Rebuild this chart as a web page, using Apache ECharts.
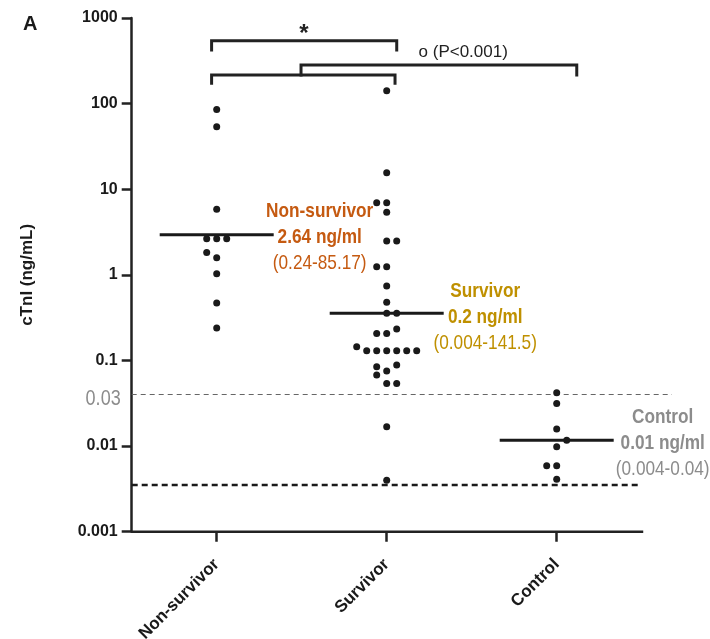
<!DOCTYPE html>
<html><head><meta charset="utf-8">
<script src="https://cdn.jsdelivr.net/npm/echarts@6/dist/echarts.min.js"></script>
<style>html,body{margin:0;padding:0;background:#fff}#c{width:710px;height:639px}</style>
</head><body><div id="c"></div>
<script>
// ---- data ----
const categories = ['Non-survivor', 'Survivor', 'Control'];
const nonSurvivor = [85.17, 53.7, 5.82, 2.64, 2.64, 2.64, 1.83, 1.58, 1.03, 0.47, 0.24];
const nonSurvivorSwarm = [0, 0, 0, -1, 0, 1, -1, 0, 0, 0, 0];
const survivor = [141.5, 15.6, 6.95, 6.95, 5.37, 2.48, 2.48, 1.24, 1.24, 0.74, 0.48, 0.355, 0.355,
  0.233, 0.207, 0.207, 0.145, 0.13, 0.13, 0.13, 0.13, 0.13, 0.13,
  0.0883, 0.0843, 0.0751, 0.0675, 0.054, 0.054, 0.0168, 0.004];
const survivorSwarm = [0, 0, -1, 0, 0, 0, 1, -1, 0, 0, 0, 0, 1,
  1, -1, 0, -3, -2, -1, 0, 1, 2, 3,
  1, -1, 0, -1, 0, 1, 0, 0];
const control = [0.042, 0.0315, 0.0158, 0.0117, 0.0098, 0.0059, 0.0059, 0.0041];
const controlSwarm = [0, 0, 0, 1, 0, -1, 0, 0];
const medians = [2.95, 0.355, 0.0117];
const groupLabels = ['Non-survivor', 'Survivor', 'Control'];
const medianTexts = ['2.64 ng/ml', '0.2 ng/ml', '0.01 ng/ml'];
const rangeTexts = ['(0.24-85.17)', '(0.004-141.5)', '(0.004-0.04)'];
const groupColors = ['#C55A11', '#BF9000', '#8C8C8C'];
const yTickLabels = ['0.001', '0.01', '0.1', '1', '10', '100', '1000'];
const cutoffValue = 0.036, cutoffLabel = '0.03';
const detectionLimit = 0.0035;
// significance brackets (x in category units, y in ng/mL)
const bracketStar = [[0.47, 423], [0.47, 543], [1.559, 543], [1.559, 423]];
const bracketLow = [[0.47, 173], [0.47, 216], [1.549, 216], [1.549, 173]];
const bracketHigh = [[0.996, 216], [0.996, 282], [2.618, 282], [2.618, 216]];
const sigTexts = [{ pos: [1.013, 640], text: '*' }, { pos: [1.95, 400], text: 'o (P<0.001)' }];

// ---- layout ----
const SLOT = 10 / 170;
const FONT = '"Liberation Sans", Arial, sans-serif';
const INK = '#1a1a1a';
const NARROW_SCALE = 0.82;
const groups = [nonSurvivor, survivor, control];
const swarms = [nonSurvivorSwarm, survivorSwarm, controlSwarm];
const dots = [];
groups.forEach((vals, g) => vals.forEach((v, i) => dots.push([g + 0.5 + swarms[g][i] * SLOT, v])));
const xMax = 540.3 / 170;
const labelOffsets = [[103, 2.5], [98.5, 3.4], [106, 3.3]];

const chart = echarts.init(document.getElementById('c'), null, { renderer: 'canvas' });
const bracketSeries = [bracketStar, bracketLow, bracketHigh].map(d => ({
  type: 'line', data: d, symbol: 'none', silent: true, z: 3,
  lineStyle: { color: '#222', width: 3, cap: 'square', join: 'miter' }
}));
chart.setOption({
  animation: false,
  backgroundColor: '#fff',
  title: { text: 'A', left: 23, top: 14, padding: 0,
    textStyle: { fontFamily: FONT, fontSize: 20, fontWeight: 'bold', color: INK } },
  grid: { left: 131.7, right: 38, top: 18, bottom: 107.3, containLabel: false, outerBoundsMode: 'none' },
  xAxis: {
    type: 'value', min: 0, max: xMax,
    axisLine: { show: false },
    splitLine: { show: false },
    axisTick: { show: true, customValues: [0.5, 1.5, 2.5], length: 10,
      lineStyle: { color: '#222', width: 2.5 } },
    axisLabel: { customValues: [0.5, 1.5, 2.5], rotate: 45, margin: 30,
      formatter: v => categories[Math.floor(v)],
      fontFamily: FONT, fontSize: 17, fontWeight: 'bold', color: INK }
  },
  yAxis: {
    type: 'log', logBase: 10, min: 0.001, max: 1000, interval: 1, splitNumber: 6,
    name: 'cTnI (ng/mL)', nameLocation: 'middle', nameGap: 96, nameRotate: 90,
    nameTextStyle: { fontFamily: FONT, fontSize: 17, fontWeight: 'bold', color: INK },
    axisLine: { show: true, lineStyle: { color: '#222', width: 2.5 } },
    axisTick: { show: true, length: 10, lineStyle: { color: '#222', width: 2.5 } },
    splitLine: { show: false },
    minorTick: { show: false },
    axisLabel: { margin: 14, fontFamily: FONT, fontSize: 16, fontWeight: 'bold', color: INK,
      formatter: v => yTickLabels[Math.round(Math.log10(v)) + 3] }
  },
  series: [
    { // x axis baseline + cutoff line
      type: 'line', data: [[0, 0.001], [3.009, 0.001]], symbol: 'none', clip: false, silent: true, z: 4,
      lineStyle: { color: '#222', width: 2.5 },
      markLine: {
        silent: true, symbol: 'none',
        lineStyle: { color: '#666', width: 1, type: [5, 4] },
        label: { show: false },
        data: [{ yAxis: cutoffValue }]
      }
    },
    { // cutoff label
      type: 'custom', silent: true, z: 5, clip: false,
      data: [[0, cutoffValue]],
      renderItem: (params, api) => {
        const p = api.coord([api.value(0), api.value(1)]);
        return { type: 'text', x: p[0] - 11, y: p[1], scaleX: NARROW_SCALE,
          style: { text: cutoffLabel, fontFamily: FONT, fontSize: 22, fill: '#8C8C8C',
            align: 'right', verticalAlign: 'middle' } };
      }
    },
    { // detection limit
      type: 'line', data: [[0, detectionLimit], [2.984, detectionLimit]], symbol: 'none', silent: true, z: 2,
      lineStyle: { color: INK, width: 2.5, type: [6, 4] }
    },
    ...bracketSeries,
    { // significance text
      type: 'scatter', symbolSize: 0, silent: true, z: 5,
      itemStyle: { opacity: 1 },
      data: sigTexts.map(s => ({ value: s.pos, label: { formatter: s.text,
        fontSize: s.text === '*' ? 24 : 17, fontWeight: s.text === '*' ? 'bold' : 'normal', color: '#222' } })),
      label: { show: true, position: 'inside', fontFamily: FONT }
    },
    { // medians with their labels
      type: 'custom', silent: true, z: 6, clip: false,
      data: medians.map((m, g) => [g + 0.5, m, g]),
      renderItem: (params, api) => {
        const g = api.value(2);
        const p = api.coord([api.value(0), api.value(1)]);
        const c = groupColors[g];
        const o = labelOffsets[g];
        return { type: 'group', children: [
          { type: 'rect', shape: { x: p[0] - 57, y: p[1] - 1.5, width: 114, height: 3 },
            style: { fill: INK } },
          { type: 'text', x: p[0] + o[0], y: p[1] + o[1], scaleX: NARROW_SCALE,
            style: {
              text: `{a|${groupLabels[g]}}\n{a|${medianTexts[g]}}\n{c|${rangeTexts[g]}}`,
              align: 'center', verticalAlign: 'middle',
              rich: {
                a: { fontFamily: FONT, fontSize: 21, fontWeight: 'bold', fill: c, lineHeight: 26, align: 'center' },
                c: { fontFamily: FONT, fontSize: 21, fill: c, lineHeight: 26, align: 'center' }
              }
            } }
        ] };
      }
    },
    { // individual patients
      type: 'scatter', symbol: 'circle', symbolSize: 7, z: 7,
      itemStyle: { color: INK, opacity: 1 },
      data: dots
    }
  ]
});
</script></body></html>
